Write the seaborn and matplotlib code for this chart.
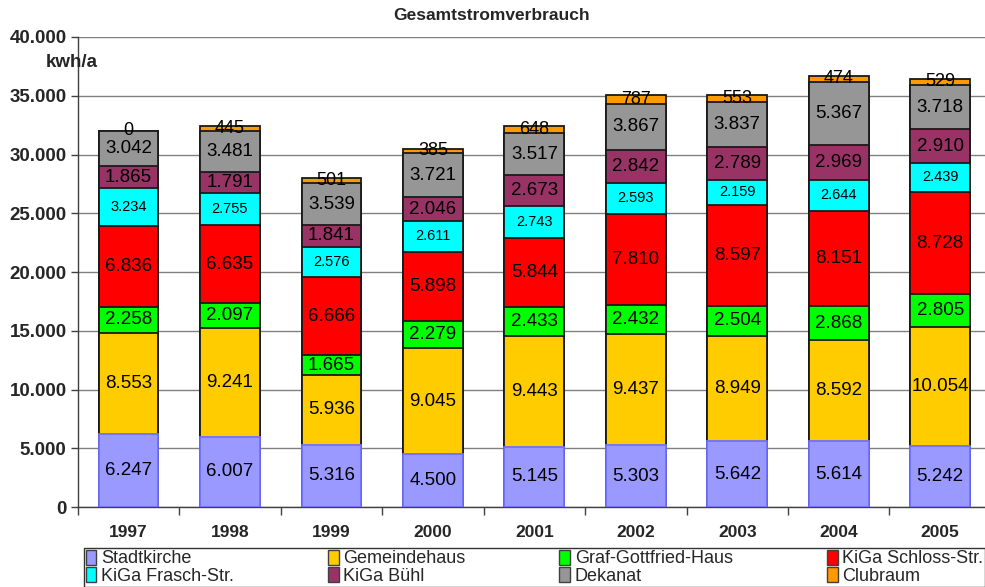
import matplotlib
matplotlib.use("Agg")
import matplotlib.pyplot as plt
from matplotlib.patches import Patch
from matplotlib.ticker import FuncFormatter
import numpy as np
import pandas as pd
import seaborn as sns

# Daten
jahre = ["1997", "1998", "1999", "2000", "2001", "2002", "2003", "2004", "2005"]
namen = ["Stadtkirche", "Gemeindehaus", "Graf-Gottfried-Haus", "KiGa Schloss-Str.",
         "KiGa Frasch-Str.", "KiGa Bühl", "Dekanat", "Clubraum"]
stadtkirche = [6247, 6007, 5316, 4500, 5145, 5303, 5642, 5614, 5242]
gemeindehaus = [8553, 9241, 5936, 9045, 9443, 9437, 8949, 8592, 10054]
graf_gottfried = [2258, 2097, 1665, 2279, 2433, 2432, 2504, 2868, 2805]
kiga_schloss = [6836, 6635, 6666, 5898, 5844, 7810, 8597, 8151, 8728]
kiga_frasch = [3234, 2755, 2576, 2611, 2743, 2593, 2159, 2644, 2439]
kiga_buehl = [1865, 1791, 1841, 2046, 2673, 2842, 2789, 2969, 2910]
dekanat = [3042, 3481, 3539, 3721, 3517, 3867, 3837, 5367, 3718]
clubraum = [0, 445, 501, 385, 648, 787, 553, 474, 529]

farben = ["#9999FF", "#FFCC00", "#00FF00", "#FF0000",
          "#00FFFF", "#993366", "#969696", "#FF9900"]

werte = np.array([stadtkirche, gemeindehaus, graf_gottfried, kiga_schloss,
                  kiga_frasch, kiga_buehl, dekanat, clubraum])
df = pd.DataFrame(werte.T, columns=namen, index=jahre)
kum = df.cumsum(axis=1)

sns.set_style("white")
plt.rcParams["font.family"] = ["Liberation Sans", "DejaVu Sans"]

fig = plt.figure(figsize=(9.85, 5.87), dpi=100)
ax = fig.add_axes([0.079, 0.136, 0.927, 0.801])

# gestapelt: von oben nach unten zeichnen, damit die kleineren Balken darüber liegen
for i in range(len(namen) - 1, -1, -1):
    d = pd.DataFrame({"jahr": jahre, "wert": kum[namen[i]].values})
    kante = "#6f6fff" if i == 0 else "#1a1a1a"
    sns.barplot(data=d, x="jahr", y="wert", color=farben[i], saturation=1,
                width=0.59, edgecolor=kante, linewidth=1.3, ax=ax, zorder=3)

def fmt(v):
    return "{:,}".format(int(v)).replace(",", ".")

for i, n in enumerate(namen):
    unten = kum[n].values - df[n].values
    for j in range(len(jahre)):
        y = unten[j] + df[n].values[j] / 2
        gr = 13.5
        if i == len(namen) - 1:
            y = y + 20
            gr = 13
        elif n == "KiGa Frasch-Str.":
            gr = 10.5
        ax.text(j, y, fmt(df[n].values[j]), ha="center", va="center",
                fontsize=gr, color="black", zorder=5)

ax.set_ylim(0, 40000)
ax.set_xlim(-0.5, 8.5)
ax.set_yticks(np.arange(0, 40001, 5000))
ax.yaxis.set_major_formatter(FuncFormatter(lambda v, p: fmt(v)))
ax.grid(axis="y", color="#808080", linewidth=1, zorder=0)
ax.set_axisbelow(True)
ax.set_xlabel("")
ax.set_ylabel("")
for s in ["top", "right"]:
    ax.spines[s].set_visible(False)
for s in ["left", "bottom"]:
    ax.spines[s].set_color("#404040")
    ax.spines[s].set_linewidth(1)
ax.tick_params(axis="y", labelsize=13.5, length=5, width=1, color="#404040",
               direction="out", left=True, pad=3)
ax.tick_params(axis="x", which="major", labelsize=12.5, length=0, pad=13)
ax.set_xticks(np.arange(-0.5, 9, 1), minor=True)
ax.tick_params(axis="x", which="minor", length=6, width=1, color="#404040", bottom=True)
for t in ax.get_xticklabels() + ax.get_yticklabels():
    t.set_fontweight("bold")

fig.text(0.499, 0.974, "Gesamtstromverbrauch", ha="center", va="center",
         fontsize=12.5, fontweight="bold")
fig.text(0.046, 0.894, "kwh/a", ha="left", va="center", fontsize=13.5, fontweight="bold")

handles = [Patch(facecolor=farben[i], edgecolor="#404040", label=namen[i]) for i in range(8)]
order = [0, 4, 1, 5, 2, 6, 3, 7]
leg = fig.legend([handles[k] for k in order], [namen[k] for k in order], ncol=4,
                 loc="lower left", bbox_to_anchor=(0.085, 0.0, 0.915, 0.067), mode="expand",
                 frameon=True, fancybox=False, edgecolor="black", fontsize=13,
                 handlelength=0.6, handleheight=0.9, handletextpad=0.25,
                 labelspacing=0.0, borderpad=0.1, columnspacing=1.0, borderaxespad=0)
leg.get_frame().set_linewidth(1)

fig.savefig("out.png", dpi=100)
